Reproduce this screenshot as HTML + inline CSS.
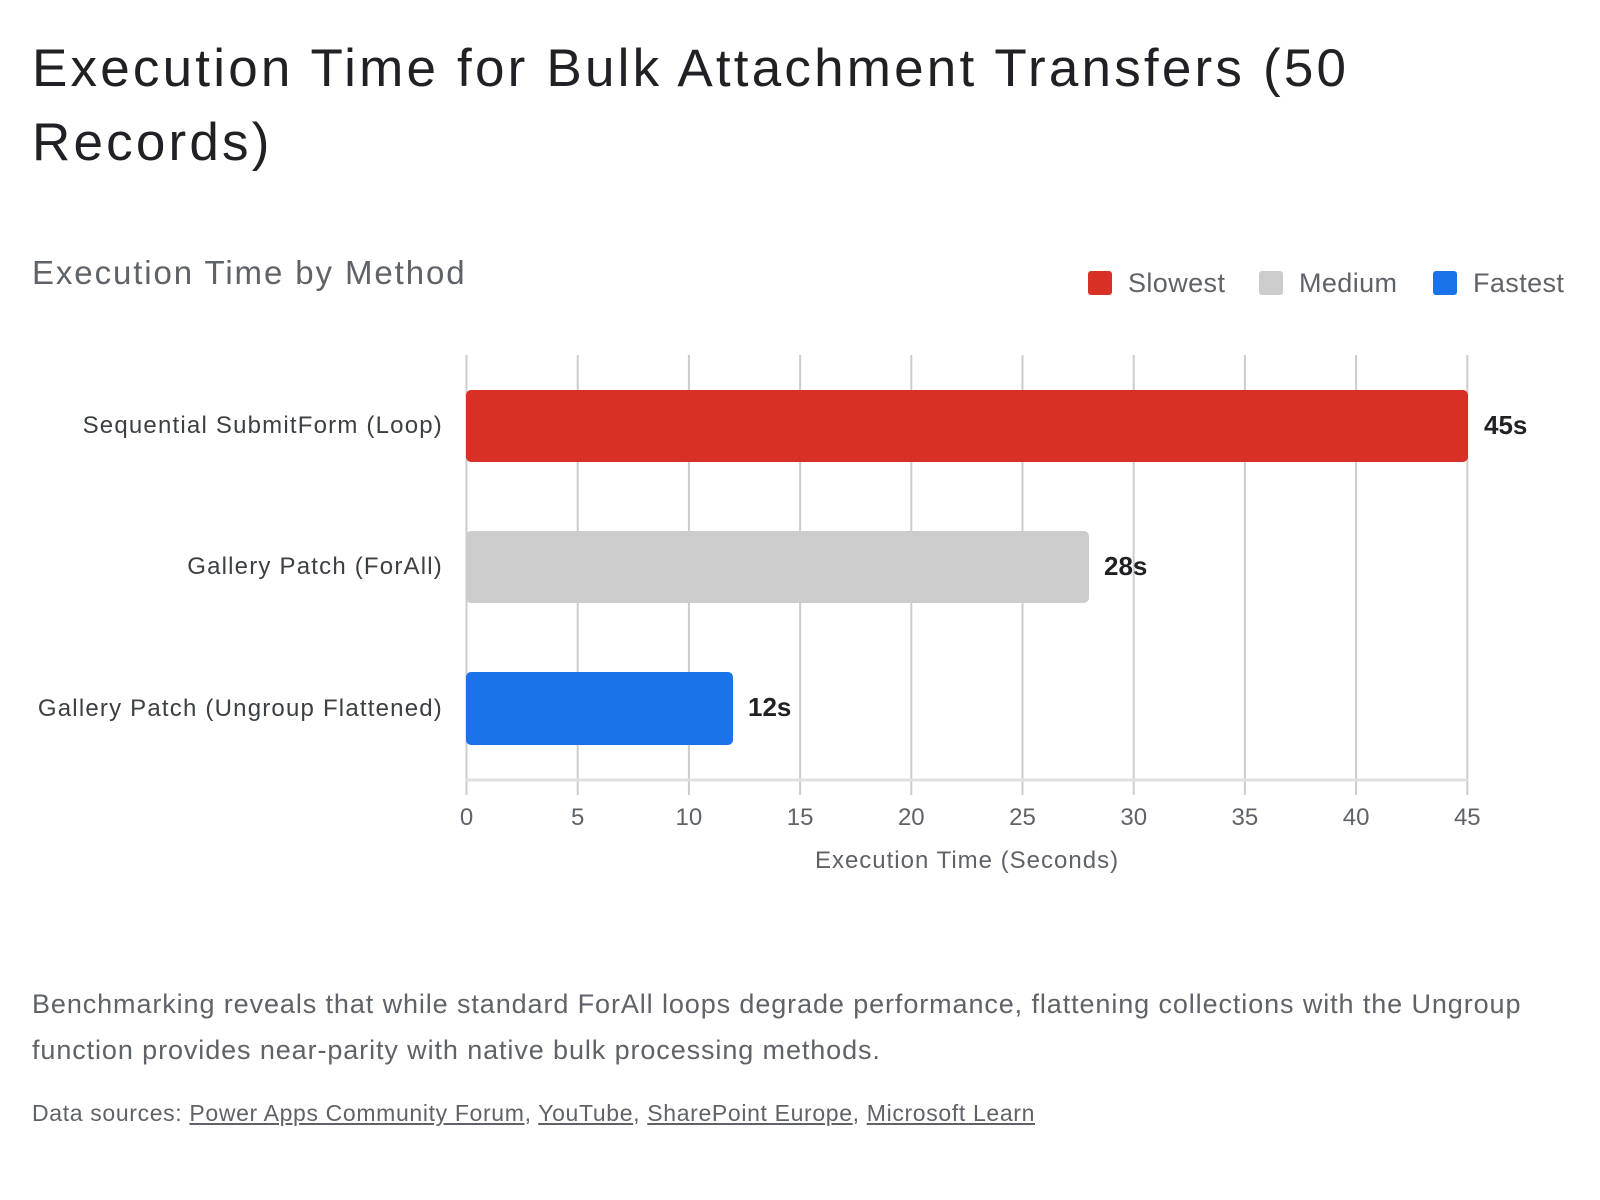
<!DOCTYPE html>
<html><head><meta charset="utf-8"><style>
body{margin:0;width:1600px;height:1200px;background:#fff;font-family:"Liberation Sans",sans-serif;position:relative;overflow:hidden}
.a{position:absolute;white-space:nowrap}
</style></head><body>
<div class="a" style="left:32px;top:32px;font-size:53px;line-height:74px;color:#202124;letter-spacing:3.2px">Execution Time for Bulk Attachment Transfers (50<br>Records)</div>
<div class="a" style="left:32px;top:254px;font-size:33px;color:#5f6368;letter-spacing:1.9px">Execution Time by Method</div>
<svg class="a" style="left:0;top:0" width="1600" height="1200" font-family="Liberation Sans, sans-serif">
<rect x="1088" y="271" width="24" height="24" rx="3" fill="#d93025"/>
<text x="1128" y="292" font-size="27" fill="#5f6368" letter-spacing="0.4">Slowest</text>
<rect x="1259" y="271" width="24" height="24" rx="3" fill="#cccccc"/>
<text x="1299" y="292" font-size="27" fill="#5f6368" letter-spacing="0.4">Medium</text>
<rect x="1433" y="271" width="24" height="24" rx="3" fill="#1a73e8"/>
<text x="1473" y="292" font-size="27" fill="#5f6368" letter-spacing="0.4">Fastest</text>
<g stroke="#cccccc" stroke-width="2">
<line x1="466.5" y1="355" x2="466.5" y2="795"/><line x1="577.7" y1="355" x2="577.7" y2="795"/>
<line x1="688.9" y1="355" x2="688.9" y2="795"/><line x1="800.1" y1="355" x2="800.1" y2="795"/>
<line x1="911.3" y1="355" x2="911.3" y2="795"/><line x1="1022.5" y1="355" x2="1022.5" y2="795"/>
<line x1="1133.7" y1="355" x2="1133.7" y2="795"/><line x1="1244.9" y1="355" x2="1244.9" y2="795"/>
<line x1="1356.1" y1="355" x2="1356.1" y2="795"/><line x1="1467.3" y1="355" x2="1467.3" y2="795"/>
</g>
<line x1="466" y1="780" x2="1468" y2="780" stroke="#e0e0e0" stroke-width="3"/>
<rect x="466" y="390" width="1002" height="72" rx="5" fill="#d93025"/>
<rect x="466" y="531" width="623" height="72" rx="5" fill="#cccccc"/>
<rect x="466" y="672" width="267" height="73" rx="5" fill="#1a73e8"/>
<g font-size="26" font-weight="bold" fill="#202124">
<text x="1484" y="434">45s</text><text x="1104" y="575">28s</text><text x="748" y="716">12s</text>
</g>
<g font-size="24" fill="#3c4043" text-anchor="end" letter-spacing="1.2">
<text x="443" y="433">Sequential SubmitForm (Loop)</text>
<text x="443" y="574">Gallery Patch (ForAll)</text>
<text x="443" y="716">Gallery Patch (Ungroup Flattened)</text>
</g>
<g font-size="24" fill="#5f6368" text-anchor="middle">
<text x="466.5" y="825">0</text><text x="577.7" y="825">5</text><text x="688.9" y="825">10</text>
<text x="800.1" y="825">15</text><text x="911.3" y="825">20</text><text x="1022.5" y="825">25</text>
<text x="1133.7" y="825">30</text><text x="1244.9" y="825">35</text><text x="1356.1" y="825">40</text>
<text x="1467.3" y="825">45</text>
<text x="967" y="868" letter-spacing="1">Execution Time (Seconds)</text>
</g>
</svg>
<div class="a" style="left:32px;top:981px;font-size:27px;line-height:46px;color:#5f6368;letter-spacing:0.9px">Benchmarking reveals that while standard ForAll loops degrade performance, flattening collections with the Ungroup<br>function provides near-parity with native bulk processing methods.</div>
<div class="a" style="left:32px;top:1100px;font-size:23px;color:#5f6368;letter-spacing:0.65px">Data sources: <u>Power Apps Community Forum</u>, <u>YouTube</u>, <u>SharePoint Europe</u>, <u>Microsoft Learn</u></div>
</body></html>
